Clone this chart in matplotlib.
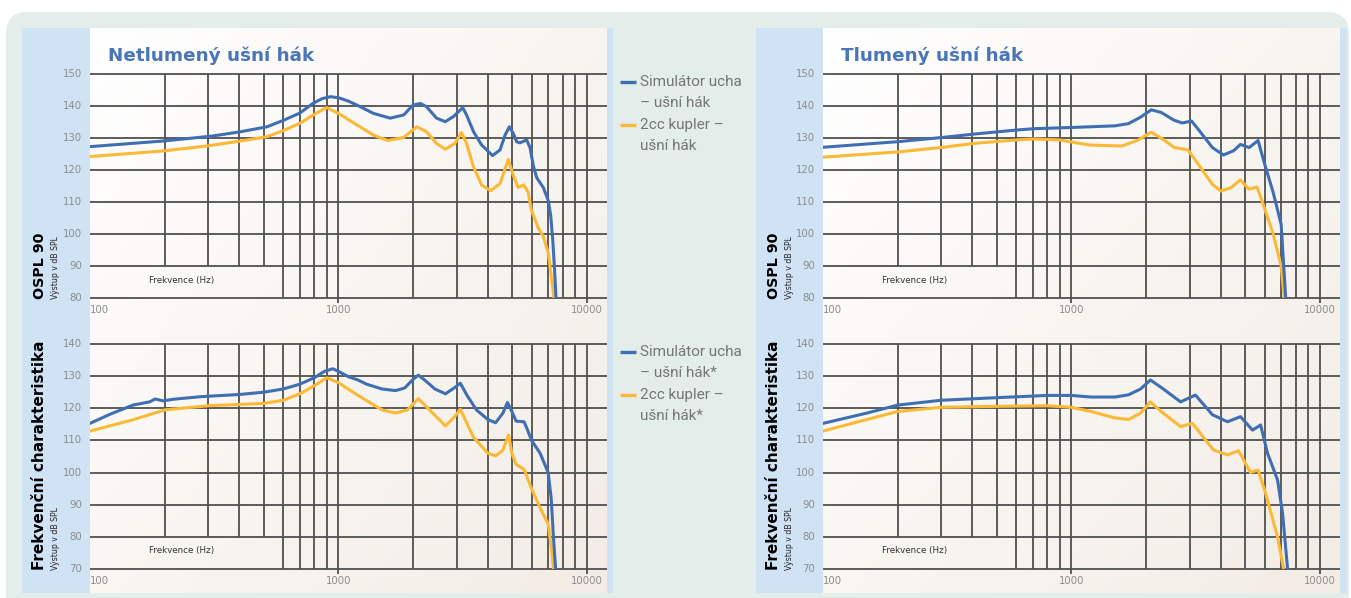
import numpy as np
import matplotlib
matplotlib.use("Agg")
import matplotlib.pyplot as plt
from matplotlib.patches import FancyBboxPatch, Rectangle

W, H = 1351, 598

# ---------------- data ----------------
titles = ["Netlumený ušní hák", "Tlumený ušní hák"]
row_labels = ["OSPL 90", "Frekvenční charakteristika"]
unit_label = "Výstup v dB SPL"
x_label = "Frekvence (Hz)"
legend_top = [["Simulátor ucha", "– ušní hák"], ["2cc kupler –", "ušní hák"]]
legend_bottom = [["Simulátor ucha", "– ušní hák*"], ["2cc kupler –", "ušní hák*"]]
x_ticks = [100, 1000, 10000]
y_ticks_top = [80, 90, 100, 110, 120, 130, 140, 150]
y_ticks_bottom = [70, 80, 90, 100, 110, 120, 130, 140]

# Netlumený – OSPL 90
tl_blue_f = [100, 200, 310, 400, 516, 600, 700, 790, 860, 930, 1000, 1100, 1187, 1385, 1617, 1834,
             2000, 2143, 2264, 2487, 2695, 2910, 3170, 3285, 3502, 3778, 4180, 4483, 4693, 4885,
             5061, 5228, 5393, 5737, 5916, 6102, 6295, 6693, 7012, 7168, 7302, 7413, 7531, 7600]
tl_blue_v = [127.3, 129.1, 130.6, 131.9, 133.5, 135.5, 137.8, 140.8, 142.3, 142.9, 142.6, 141.5, 140.3,
             137.7, 136.2, 137.2, 140.3, 140.8, 139.8, 136.2, 135.1, 136.7, 139.5, 137.2, 132.0,
             127.8, 124.5, 126.3, 130.9, 133.5, 131.5, 128.8, 128.5, 129.4, 127.0, 121.3, 117.6,
             114.5, 110.4, 105.7, 98.4, 90.0, 80.0, 75.0]
tl_orange_f = [100, 200, 295, 400, 516, 600, 701, 800, 897, 1000, 1187, 1385, 1585, 1834, 2070, 2264,
               2487, 2695, 2950, 3131, 3285, 3502, 3778, 4110, 4483, 4836, 5061, 5292, 5577, 5808,
               5990, 6394, 6693, 7012, 7235, 7393, 7450]
tl_orange_v = [124.2, 126.0, 127.5, 129.0, 130.4, 132.3, 134.6, 137.4, 139.5, 137.7, 134.1, 130.9,
               129.2, 130.2, 133.5, 132.0, 128.3, 126.5, 128.3, 131.7, 128.3, 121.0, 115.3, 113.5,
               115.8, 123.3, 118.4, 114.6, 115.3, 113.2, 107.5, 101.8, 99.2, 94.0, 85.6, 80.0, 76.0]

# Tlumený – OSPL 90
tr_blue_f = [100, 204, 305, 403, 603, 706, 1012, 1500, 1700, 1900, 2100, 2300, 2600, 2800, 3050, 3300,
             3700, 4100, 4500, 4800, 5200, 5650, 6000, 6500, 7000, 7300, 7400]
tr_blue_v = [127.1, 128.9, 130.2, 131.2, 132.5, 132.9, 133.3, 133.8, 134.5, 136.5, 138.8, 138.0, 135.5,
             134.7, 135.3, 132.0, 127.0, 124.7, 126.0, 128.0, 127.0, 129.2, 122.0, 113.0, 103.0, 80.0, 76.0]
tr_orange_f = [100, 204, 305, 403, 603, 706, 895, 1185, 1600, 1850, 2100, 2350, 2600, 2950, 3300, 3700,
               4000, 4400, 4800, 5200, 5600, 6000, 6500, 7000, 7200, 7300]
tr_orange_v = [124.0, 125.7, 127.1, 128.3, 129.4, 129.7, 129.4, 127.8, 127.5, 129.3, 131.8, 129.5, 127.0,
               126.3, 121.0, 115.5, 113.4, 114.5, 116.9, 114.0, 114.7, 108.0, 100.0, 90.0, 80.0, 76.0]

# Netlumený – frekvenční charakteristika
bl_blue_f = [100, 120, 149, 174, 183, 197, 216, 278, 400, 500, 600, 700, 800, 880, 950, 1000, 1100, 1200,
             1300, 1500, 1700, 1850, 2000, 2100, 2250, 2450, 2700, 2950, 3100, 3300, 3600, 4000, 4300,
             4600, 4800, 5000, 5200, 5600, 5800, 6000, 6500, 7000, 7200, 7350, 7500]
bl_blue_v = [115.3, 118.1, 121.0, 122.0, 122.9, 122.3, 122.8, 123.6, 124.3, 125.0, 126.0, 127.5, 129.5,
             131.5, 132.3, 131.5, 129.8, 128.8, 127.5, 126.0, 125.5, 126.3, 129.0, 130.3, 128.5, 126.0,
             124.5, 126.5, 127.8, 124.0, 119.5, 116.5, 115.5, 118.5, 121.8, 119.0, 116.0, 115.8, 113.0,
             110.0, 106.0, 100.0, 92.0, 80.0, 70.0]
bl_orange_f = [100, 150, 200, 300, 400, 500, 600, 700, 800, 900, 1000, 1200, 1500, 1700, 1900, 2100,
               2400, 2700, 2950, 3100, 3500, 4000, 4300, 4600, 4850, 5000, 5200, 5600, 6000, 6500,
               7000, 7250, 7350]
bl_orange_v = [112.9, 116.5, 119.5, 120.8, 121.2, 121.5, 122.5, 124.5, 127.0, 129.5, 128.0, 124.0, 119.5,
               118.5, 119.5, 123.0, 118.5, 114.5, 117.5, 119.7, 111.0, 106.0, 105.2, 107.0, 111.7, 106.0,
               102.5, 101.0, 95.0, 89.0, 84.0, 75.0, 70.0]

# Tlumený – frekvenční charakteristika
br_blue_f = [100, 150, 200, 300, 500, 800, 1000, 1200, 1500, 1700, 1900, 2082, 2300, 2754, 3162, 3700,
             4256, 4800, 5370, 5785, 6170, 6770, 7090, 7430]
br_blue_v = [115.3, 118.5, 121.0, 122.5, 123.3, 124.0, 124.0, 123.5, 123.5, 124.2, 126.0, 128.8, 126.5,
             122.0, 124.1, 118.0, 115.8, 117.4, 113.2, 114.8, 106.0, 97.7, 87.4, 70.0]
br_orange_f = [100, 150, 200, 300, 500, 800, 1000, 1200, 1500, 1700, 1900, 2082, 2300, 2754, 3076, 3740,
               4256, 4713, 5270, 5650, 6058, 6770, 7160]
br_orange_v = [112.9, 116.5, 119.0, 120.3, 120.6, 120.8, 120.3, 119.0, 117.0, 116.5, 118.5, 122.0, 119.0,
               114.3, 115.3, 107.0, 105.5, 106.8, 100.0, 100.8, 93.6, 80.0, 70.0]

# ---------------- styles ----------------
TEAL = "#e3eeeb"
STRIP = "#cfe3f5"
BLUE = "#3f6fb2"
ORANGE = "#fcb935"
GRID = "#505050"
TICK = "#8c8c8c"
LEG = "#767676"
TITLE = "#4a76b8"

fig = plt.figure(figsize=(W / 100, H / 100), dpi=100)
fig.patch.set_facecolor("white")

bg = fig.add_axes([0, 0, 1, 1])
bg.set_xlim(0, W)
bg.set_ylim(H, 0)
bg.axis("off")

bg.add_patch(FancyBboxPatch((6, 12), W - 8, H - 12 + 30,
                            boxstyle="round,pad=0,rounding_size=22",
                            fc=TEAL, ec="none"))

# gradient image for plot areas
gx = np.linspace(0, 1, 200)
gy = np.linspace(0, 1, 200)
GX, GY = np.meshgrid(gx, gy)
t = np.clip(0.6 * GX + 0.5 * GY, 0, 1)
c0 = np.array([1.0, 1.0, 1.0])
c1 = np.array([0.955, 0.933, 0.905])
grad = c0[None, None, :] * (1 - t[..., None]) + c1[None, None, :] * t[..., None]

panels = [dict(strip0=22, px0=90, px1=607, strip1=613),
          dict(strip0=756, px0=823, px1=1340, strip1=1347)]
PTOP, PBOT = 28, 593
for p in panels:
    bg.add_patch(Rectangle((p["strip0"], PTOP), p["px0"] - p["strip0"], PBOT - PTOP, fc=STRIP, ec="none"))
    bg.add_patch(Rectangle((p["px1"], PTOP), p["strip1"] - p["px1"], PBOT - PTOP, fc=STRIP, ec="none"))
    bg.imshow(grad, extent=[p["px0"], p["px1"], PBOT, PTOP], aspect="auto", zorder=1)
bg.set_xlim(0, W)
bg.set_ylim(H, 0)

# titles
for p, ttl in zip(panels, titles):
    bg.text(p["px0"] + 18, 56, ttl, color=TITLE, fontsize=13.2, fontweight="bold",
            family="DejaVu Sans", va="center", ha="left", zorder=5)


def fx(x):
    return x / W


def fy(y):
    return 1 - y / H


rows = [dict(top=74, bot=298, ylim=(80, 150), yt=y_ticks_top, label=row_labels[0], lfs=10.3),
        dict(top=344, bot=569, ylim=(70, 140), yt=y_ticks_bottom, label=row_labels[1], lfs=11.0)]

XMAX = 12080
series = {(0, 0): (tl_blue_f, tl_blue_v, tl_orange_f, tl_orange_v),
          (0, 1): (tr_blue_f, tr_blue_v, tr_orange_f, tr_orange_v),
          (1, 0): (bl_blue_f, bl_blue_v, bl_orange_f, bl_orange_v),
          (1, 1): (br_blue_f, br_blue_v, br_orange_f, br_orange_v)}

minor = [200, 300, 400, 500, 600, 700, 800, 900, 2000, 3000, 4000, 5000, 6000, 7000, 8000, 9000]

for ri, r in enumerate(rows):
    for ci, p in enumerate(panels):
        ax = fig.add_axes([fx(p["px0"]), fy(r["bot"]), fx(p["px1"] - p["px0"]), (r["bot"] - r["top"]) / H])
        ax.set_xscale("log")
        ax.set_xlim(100, XMAX)
        y0, y1 = r["ylim"]
        ax.set_ylim(y0, y1)
        ax.patch.set_alpha(0)
        for s in ax.spines.values():
            s.set_visible(False)
        ax.set_xticks([])
        ax.set_yticks([])
        ax.minorticks_off()
        # horizontal grid
        for yv in r["yt"]:
            ax.plot([100, XMAX], [yv, yv], color=GRID, lw=1.3, clip_on=False, zorder=2, solid_capstyle="butt")
        # vertical grid
        for xv in minor:
            lo = y0 + 10 if xv <= 500 else y0
            ax.plot([xv, xv], [lo, y1], color=GRID, lw=1.3, clip_on=False, zorder=2, solid_capstyle="butt")
        for xv in [1000, 10000]:
            ax.plot([xv, xv], [y0 - 1.6, y1], color=GRID, lw=1.3, clip_on=False, zorder=2, solid_capstyle="butt")
        # curves
        bf, bv, of, ov = series[(ri, ci)]
        ax.plot(of, ov, color=ORANGE, lw=2.2, zorder=3, solid_capstyle="round", solid_joinstyle="round")
        ax.plot(bf, bv, color=BLUE, lw=2.2, zorder=4, solid_capstyle="round", solid_joinstyle="round")
        # in-plot x label
        ax.text(10 ** (2 + (182 - 90) / 248.3), y0 + 5.6, x_label,
                fontsize=6.3, color="#333333", ha="center", va="center", zorder=5)
        # tick labels
        for yv in r["yt"]:
            ax.annotate(str(yv), xy=(100, yv), xytext=(-8, 0), textcoords="offset pixels",
                        ha="right", va="center", fontsize=7.3, color=TICK, family="DejaVu Sans",
                        annotation_clip=False)
        for i, xv in enumerate(x_ticks):
            ax.annotate(str(xv), xy=(xv, y0), xytext=(0, -12), textcoords="offset pixels",
                        ha="left" if i == 0 else "center", va="center", fontsize=7.3, color=TICK,
                        annotation_clip=False)

        # row labels
        bg.text(p["strip0"] + 18, r["bot"] + 1, r["label"], rotation=90, fontsize=r["lfs"], fontweight="bold",
                color="black", ha="center", va="bottom", zorder=5)
        bg.text(p["strip0"] + 34, r["bot"] + 1, unit_label, rotation=90, fontsize=5.6,
                color="#222222", ha="center", va="bottom", zorder=5)

# legends
for (ltxt, ytop) in [(legend_top, 82), (legend_bottom, 352)]:
    for k, (lines, col) in enumerate(zip(ltxt, [BLUE, ORANGE])):
        yy = ytop + k * 43
        bg.plot([620, 636], [yy, yy], color=col, lw=2.4, solid_capstyle="butt", zorder=5)
        for j, ln in enumerate(lines):
            bg.text(640, yy + j * 21.3, ln, fontsize=11.0, color=LEG, ha="left", va="center",
                    family="Roboto", fontweight="normal", zorder=5)

bg.set_xlim(0, W)
bg.set_ylim(H, 0)
fig.savefig("out.png", dpi=100, facecolor="white")
